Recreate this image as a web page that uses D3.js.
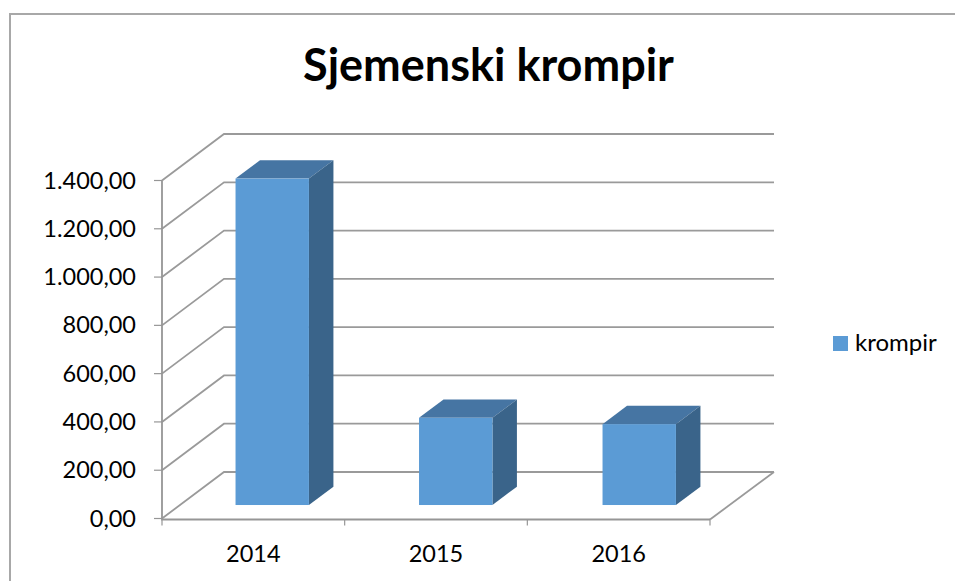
<!DOCTYPE html>
<html>
<head>
<meta charset="utf-8">
<script src="https://cdn.jsdelivr.net/npm/d3@7"></script>
<style>
body { margin: 0; background: #fff; }
text { font-family: Lato, "Open Sans", sans-serif; fill: #000; }
</style>
</head>
<body>
<div id="chart"></div>
<script>
// Sjemenski krompir 3D column chart
const categories = ["2014", "2015", "2016"];
const values = [1352, 361, 335];
const yTicks = [0, 200, 400, 600, 800, 1000, 1200, 1400];
const tickLabels = ["0,00", "200,00", "400,00", "600,00", "800,00", "1.000,00", "1.200,00", "1.400,00"];
const seriesName = "krompir";

const width = 955, height = 581;
const x0 = 162, x1 = 710, yBase = 518.5, yTop = 180.5;
const depthX = 62, depthY = 46.5, backRight = 774;
// bar sits part way into the floor
const barFront = 0.29, barBack = 0.685;

const svg = d3.select("#chart").append("svg")
    .attr("width", width)
    .attr("height", height);

// labels follow the axis, bars run slightly wider in the original
const xAxis = d3.scaleBand().domain(categories).range([x0, x1]).paddingInner(0.595).paddingOuter(0.2975);
const x = d3.scaleBand().domain(categories).range([x0 + 0.5, x1 + 3]).paddingInner(0.6).paddingOuter(0.3);
const y = d3.scaleLinear().domain([0, 1400]).range([yBase, yTop]);

// Frame
svg.append("path")
    .attr("d", `M10,${height}V14H${width}`)
    .attr("fill", "none")
    .attr("stroke", "#a8a8a8")
    .attr("stroke-width", 2);

// Back wall gridlines + side wall
const grid = svg.append("g").attr("fill", "none").attr("stroke", "#9a9a9a").attr("stroke-width", 1.8);
yTicks.forEach(t => {
    const yy = y(t);
    grid.append("path").attr("d", `M${x0},${yy}L${x0 + depthX},${yy - depthY}H${backRight}`);
});
// floor front right edge joins the last gridline
grid.append("path").attr("d", `M${x1},${yBase + 1}L${backRight},${yBase - depthY}`);

// Axes
const axis = svg.append("g").attr("fill", "none").attr("stroke", "#969696").attr("stroke-width", 1.8);
axis.append("path").attr("d", `M${x0},${yTop}V${yBase + 1}H${x1}`);
yTicks.forEach(t => {
    axis.append("path").attr("d", `M${x0 - 8},${y(t)}H${x0}`).attr("stroke-width", 1.2);
});
[x0, x0 + (x1 - x0) / 3, x0 + 2 * (x1 - x0) / 3, x1].forEach(v => {
    axis.append("path").attr("d", `M${v},${yBase + 1}v6`).attr("stroke-width", 1.2);
});

// Bars
const barH = v => y(0) - y(v);
const bars = svg.append("g").selectAll("g").data(categories).enter().append("g");
const fX = d => x(d) + barFront * depthX;
const fBottom = yBase - barFront * depthY;
const dx = (barBack - barFront) * depthX, dy = (barBack - barFront) * depthY;
const val = (d, i) => values[i];

bars.append("path") // top face
    .attr("fill", "#4675a3")
    .attr("d", (d, i) => {
        const xl = fX(d), w = x.bandwidth(), t = fBottom - barH(val(d, i));
        return `M${xl},${t}L${xl + dx},${t - dy}H${xl + w + dx}L${xl + w},${t}Z`;
    });
bars.append("path") // side face
    .attr("fill", "#3a648a")
    .attr("d", (d, i) => {
        const xr = fX(d) + x.bandwidth(), t = fBottom - barH(val(d, i));
        return `M${xr},${t}L${xr + dx},${t - dy}V${fBottom - dy}L${xr},${fBottom}Z`;
    });
bars.append("rect") // front face
    .attr("fill", "#5b9bd5")
    .attr("x", d => fX(d))
    .attr("width", x.bandwidth())
    .attr("y", (d, i) => fBottom - barH(val(d, i)))
    .attr("height", (d, i) => barH(val(d, i)));

// Labels
svg.append("g").selectAll("text").data(yTicks).enter().append("text")
    .attr("x", 136)
    .attr("y", d => y(d) + 8)
    .attr("text-anchor", "end")
    .style("font-size", "23.5px")
    .text((d, i) => tickLabels[i]);

svg.append("g").selectAll("text").data(categories).enter().append("text")
    .attr("x", d => xAxis(d) + xAxis.bandwidth() / 2)
    .attr("y", 562)
    .attr("text-anchor", "middle")
    .style("font-size", "23.5px")
    .text(d => d);

svg.append("text")
    .attr("x", 488.5)
    .attr("y", 80.5)
    .attr("text-anchor", "middle")
    .style("font-size", "45px")
    .style("font-weight", "700")
    .text("Sjemenski krompir");

// Legend
svg.append("rect").attr("x", 833).attr("y", 336).attr("width", 15).attr("height", 15).attr("fill", "#5b9bd5");
svg.append("text").attr("x", 855).attr("y", 351).style("font-size", "24px").text(seriesName);
</script>
</body>
</html>
